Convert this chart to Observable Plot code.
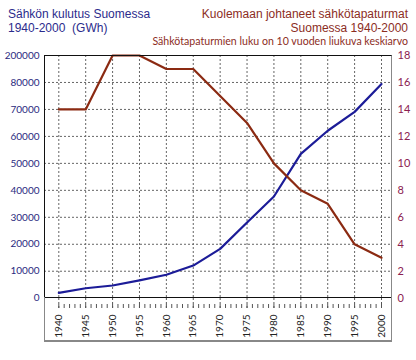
<!DOCTYPE html>
<html>
<head>
<meta charset="utf-8">
<script src="https://cdn.jsdelivr.net/npm/d3@7"></script>
<script src="https://cdn.jsdelivr.net/npm/@observablehq/plot@0.6"></script>
<style>
  html, body { margin:0; padding:0; background:#fff; }
  #wrap { position:relative; width:416px; height:360px; overflow:hidden; font-family:Lato, "Noto Sans", sans-serif; }
  #wrap svg { position:absolute; left:0; top:0; }
  .t { position:absolute; white-space:nowrap; }
  #tl { left:8px; top:7px; font-family:"Liberation Sans", Arial, sans-serif; font-size:12px; line-height:14px; color:#2b2b8c; }
  #tr { right:8px; top:7px; font-family:"Liberation Sans", Arial, sans-serif; font-size:12px; line-height:14px; color:#8c2d1e; text-align:right; }
  #ts { right:8px; top:35px; font-size:10.6px; line-height:12.7px; color:#8c2d1e; }
  .box { position:absolute; box-sizing:border-box; pointer-events:none; }
  #mainbox { left:44px; top:55px; width:348px; height:243px; border-top:1px solid #111; border-left:1px solid #111; border-right:1px solid #888; border-bottom:1px solid #111; }
  #lowbox { left:44px; top:297px; width:348px; height:45px; border-left:1px solid #888; border-right:1px solid #888; border-bottom:2px solid #888; }
</style>
</head>
<body>
<div id="wrap">
  <div class="t" id="tl">Sähkön kulutus Suomessa<br>1940-2000&nbsp; (GWh)</div>
  <div class="t" id="tr">Kuolemaan johtaneet sähkötapaturmat<br>Suomessa 1940-2000</div>
  <div class="t" id="ts">Sähkötapaturmien luku on 10 vuoden liukuva keskiarvo</div>
</div>
<script>
// Data
const years = [1940, 1945, 1950, 1955, 1960, 1965, 1970, 1975, 1980, 1985, 1990, 1995, 2000];
const consumptionGWh = [2000, 3700, 4700, 6600, 8700, 12100, 18300, 28100, 37700, 53500, 62100, 69100, 79400];
const fatalAccidents = [14, 14, 18, 18, 17, 17, 15, 13, 10, 8, 7, 4, 3];
const leftTickValues = [0, 10000, 20000, 30000, 40000, 50000, 60000, 70000, 80000, 90000];
const leftTickLabels = ["0", "10000", "20000", "30000", "40000", "50000", "60000", "70000", "80000", "200000"];
const rightTickLabels = ["0", "2", "4", "6", "8", "10", "12", "14", "16", "18"];
const rightMax = 18;
const leftMax = 90000;
const allYears = d3.range(1940, 2001);

const factor = leftMax / rightMax;
const table = years.map((y, i) => ({year: y, gwh: consumptionGWh[i], acc: fatalAccidents[i] * factor}));

const chart = Plot.plot({
  width: 416,
  height: 360,
  marginLeft: 44,
  marginRight: 24,
  marginTop: 55,
  marginBottom: 62,
  style: {background: "transparent", fontFamily: "Lato, 'Noto Sans', sans-serif"},
  x: {domain: [1940, 2000], range: [58.3, 381]},
  y: {domain: [0, leftMax], range: [297.7, 55]},
  marks: [
    Plot.gridY(leftTickValues.slice(1, -1), {stroke: "#666", strokeOpacity: 1, strokeDasharray: "2,2"}),
    Plot.gridX(years, {stroke: "#666", strokeOpacity: 1, strokeDasharray: "2,2"}),
    Plot.axisY({ticks: leftTickValues, tickFormat: d => leftTickLabels[leftTickValues.indexOf(d)], tickSize: 0, tickPadding: 5, fill: "#2a2a80", fontSize: 10, label: null}),
    Plot.axisY({anchor: "right", ticks: leftTickValues, tickFormat: d => rightTickLabels[leftTickValues.indexOf(d)], tickSize: 0, tickPadding: 5, fill: "#8b2050", fontSize: 11, label: null}),
    Plot.axisX({ticks: allYears, tickSize: 10, tickFormat: () => "", stroke: "#555", strokeDasharray: "0,6,4", label: null}),
    Plot.axisX({ticks: years, tickSize: 10, tickFormat: () => "", stroke: "#555", strokeDasharray: "2,2", label: null}),
    Plot.axisX({ticks: years, tickSize: 0, tickPadding: 16, tickRotate: -90, tickFormat: d => String(d), fontSize: 10, fill: "#222", label: null}),
    Plot.lineY(table, {x: "year", y: "gwh", stroke: "#1c1c98", strokeWidth: 2.2}),
    Plot.lineY(table, {x: "year", y: "acc", stroke: "#8b2a12", strokeWidth: 2.2})
  ]
});
const wrap = document.getElementById("wrap");
wrap.insertBefore(chart, wrap.firstChild);
const b1 = document.createElement("div"); b1.className = "box"; b1.id = "mainbox"; wrap.appendChild(b1);
const b2 = document.createElement("div"); b2.className = "box"; b2.id = "lowbox"; wrap.appendChild(b2);
</script>
</body>
</html>
